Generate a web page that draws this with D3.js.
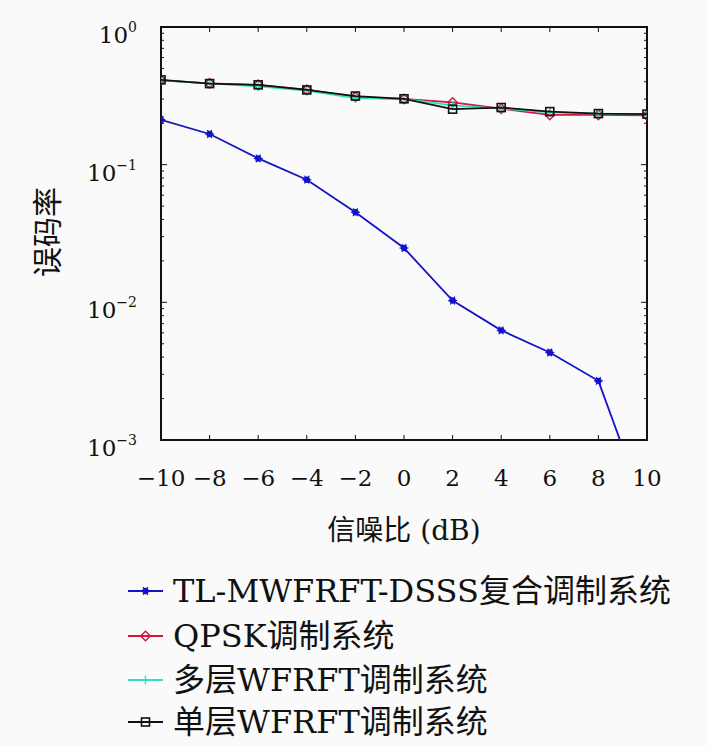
<!DOCTYPE html>
<html>
<head>
<meta charset="utf-8">
<script src="https://cdn.jsdelivr.net/npm/d3@7"></script>
<style>
  body { margin: 0; background: #fafafa; }
  svg { display: block; }
  text { font-family: "DejaVu Serif", "Noto Sans CJK SC", serif; fill: #111; }
  .cjk { font-family: "Noto Sans CJK SC", sans-serif; }
</style>
</head>
<body>
<div class="chart"></div>
<script>
const snr = [-10, -8, -6, -4, -2, 0, 2, 4, 6, 8, 10];
const berTL = [0.212, 0.167, 0.111, 0.0778, 0.0451, 0.0248, 0.0103, 0.00626, 0.00432, 0.00269, 0.00029];
const berQPSK = [0.41, 0.39, 0.38, 0.35, 0.31, 0.30, 0.283, 0.255, 0.230, 0.230, 0.228];
const berMulti = [0.41, 0.39, 0.37, 0.345, 0.305, 0.30, 0.27, 0.255, 0.24, 0.235, 0.232];
const berSingle = [0.413, 0.388, 0.380, 0.349, 0.315, 0.301, 0.253, 0.260, 0.243, 0.235, 0.233];
const xTicks = [-10, -8, -6, -4, -2, 0, 2, 4, 6, 8, 10];
const yTicks = [1, 0.1, 0.01, 0.001];
const yTickExp = ["0", "\u22121", "\u22122", "\u22123"];
const seriesNames = ["TL-MWFRFT-DSSS复合调制系统", "QPSK调制系统", "多层WFRFT调制系统", "单层WFRFT调制系统"];
const seriesColors = ["#1414c8", "#d01840", "#30e0b8", "#111111"];
const seriesMarks = ["star", "diamond", "plus", "square"];

const W = 708, H = 746;
const margin = {left: 161, top: 27, right: 61, bottom: 306};
const width = W - margin.left - margin.right;
const height = H - margin.top - margin.bottom;

const svg = d3.select('.chart')
  .append('svg')
  .attr('width', W)
  .attr('height', H);

const g = svg.append('g')
  .attr('transform', "translate(" + margin.left + "," + margin.top + ")");

const x = d3.scaleLinear().domain([-10, 10]).range([0, width]);
const y = d3.scaleLog().domain([0.001, 1]).range([height, 0]);

svg.append('defs').append('clipPath').attr('id', 'plotclip')
  .append('rect').attr('width', width).attr('height', height);

// ticks, all pointing inward
const minor = [];
[0.001, 0.01, 0.1].forEach(d => { for (let k = 2; k <= 9; k++) minor.push(d * k); });

const tickG = g.append('g').attr('stroke', '#111').attr('stroke-width', 1);
xTicks.forEach(t => {
  tickG.append('line').attr('x1', x(t)).attr('x2', x(t)).attr('y1', height).attr('y2', height - 5);
  tickG.append('line').attr('x1', x(t)).attr('x2', x(t)).attr('y1', 0).attr('y2', 5);
});
yTicks.forEach(t => {
  tickG.append('line').attr('x1', 0).attr('x2', 6).attr('y1', y(t)).attr('y2', y(t));
  tickG.append('line').attr('x1', width).attr('x2', width - 6).attr('y1', y(t)).attr('y2', y(t));
});
minor.forEach(t => {
  tickG.append('line').attr('x1', 0).attr('x2', 3).attr('y1', y(t)).attr('y2', y(t));
  tickG.append('line').attr('x1', width).attr('x2', width - 3).attr('y1', y(t)).attr('y2', y(t));
});

// frame
g.append('rect')
  .attr('width', width).attr('height', height)
  .attr('fill', 'none').attr('stroke', '#111').attr('stroke-width', 2);

// tick labels
g.append('g').selectAll('text')
  .data(xTicks)
  .enter().append('text')
  .attr('x', d => x(d))
  .attr('y', height + 46)
  .attr('text-anchor', 'middle')
  .style('font-size', '23px')
  .text(d => d < 0 ? "\u2212" + Math.abs(d) : d);

const yl = g.append('g').selectAll('text')
  .data(yTicks)
  .enter().append('text')
  .attr('x', -24)
  .attr('y', d => y(d) + 16)
  .attr('text-anchor', 'end')
  .style('font-size', '23px');
yl.append('tspan').text('10');
yl.append('tspan')
  .attr('dy', -11)
  .style('font-size', '14px')
  .text((d, i) => yTickExp[i]);

// axis titles
svg.append('text')
  .attr('class', 'cjk')
  .attr('transform', 'translate(58,' + (margin.top + 205) + ') rotate(-90)')
  .attr('text-anchor', 'middle')
  .style('font-size', '30px')
  .text('误码率');

const xt = svg.append('text')
  .attr('x', margin.left + width / 2)
  .attr('y', 540)
  .attr('text-anchor', 'middle')
  .style('font-size', '28px');
xt.append('tspan').attr('class', 'cjk').text('信噪比');
xt.append('tspan').text(' (dB)');

// markers
function drawMark(sel, type, color, cx, cy) {
  if (type === 'star') {
    sel.append('circle').attr('cx', cx).attr('cy', cy).attr('r', 3.2).attr('fill', color);
    [0, 60, 120].forEach(a => {
      const r = a * Math.PI / 180, s = 4.5;
      sel.append('line')
        .attr('x1', cx - s * Math.cos(r)).attr('y1', cy - s * Math.sin(r))
        .attr('x2', cx + s * Math.cos(r)).attr('y2', cy + s * Math.sin(r))
        .attr('stroke', color).attr('stroke-width', 1.2);
    });
  } else if (type === 'diamond') {
    const s = 4.8;
    sel.append('path')
      .attr('d', `M${cx},${cy - s}L${cx + s},${cy}L${cx},${cy + s}L${cx - s},${cy}Z`)
      .attr('fill', 'none').attr('stroke', color).attr('stroke-width', 1.4);
  } else if (type === 'plus') {
    const s = 4.5;
    sel.append('path')
      .attr('d', `M${cx - s},${cy}H${cx + s}M${cx},${cy - s}V${cy + s}`)
      .attr('stroke', color).attr('stroke-width', 1.4);
  } else {
    const s = 4;
    sel.append('rect')
      .attr('x', cx - s).attr('y', cy - s).attr('width', 2 * s).attr('height', 2 * s)
      .attr('fill', 'none').attr('stroke', color).attr('stroke-width', 1.6);
  }
}

const allSeries = [berTL, berQPSK, berMulti, berSingle];
const line = d3.line().x((d, i) => x(snr[i])).y(d => y(d));

const plot = g.append('g').attr('clip-path', 'url(#plotclip)');
allSeries.forEach((vals, k) => {
  const sg = plot.append('g');
  sg.append('path')
    .datum(vals)
    .attr('d', line)
    .attr('fill', 'none')
    .attr('stroke', seriesColors[k])
    .attr('stroke-width', 1.8);
  vals.forEach((v, i) => {
    if (v >= 0.001) drawMark(sg, seriesMarks[k], seriesColors[k], x(snr[i]), y(v));
  });
});

// legend
const legendY = [591, 636, 680, 722];
const legend = svg.append('g');
seriesNames.forEach((name, k) => {
  const ly = legendY[k];
  legend.append('line')
    .attr('x1', 128).attr('x2', 163).attr('y1', ly).attr('y2', ly)
    .attr('stroke', seriesColors[k]).attr('stroke-width', 1.8);
  drawMark(legend, seriesMarks[k], seriesColors[k], 145.5, ly);
  const t = legend.append('text')
    .attr('x', 173).attr('y', ly + 11)
    .style('font-size', '32px');
  // split into latin / CJK runs so each gets its own font
  name.match(/[\u4e00-\u9fff]+|[^\u4e00-\u9fff]+/g).forEach(run => {
    const sp = t.append('tspan').text(run);
    if (/[\u4e00-\u9fff]/.test(run)) sp.attr('class', 'cjk');
  });
});
</script>
</body>
</html>
